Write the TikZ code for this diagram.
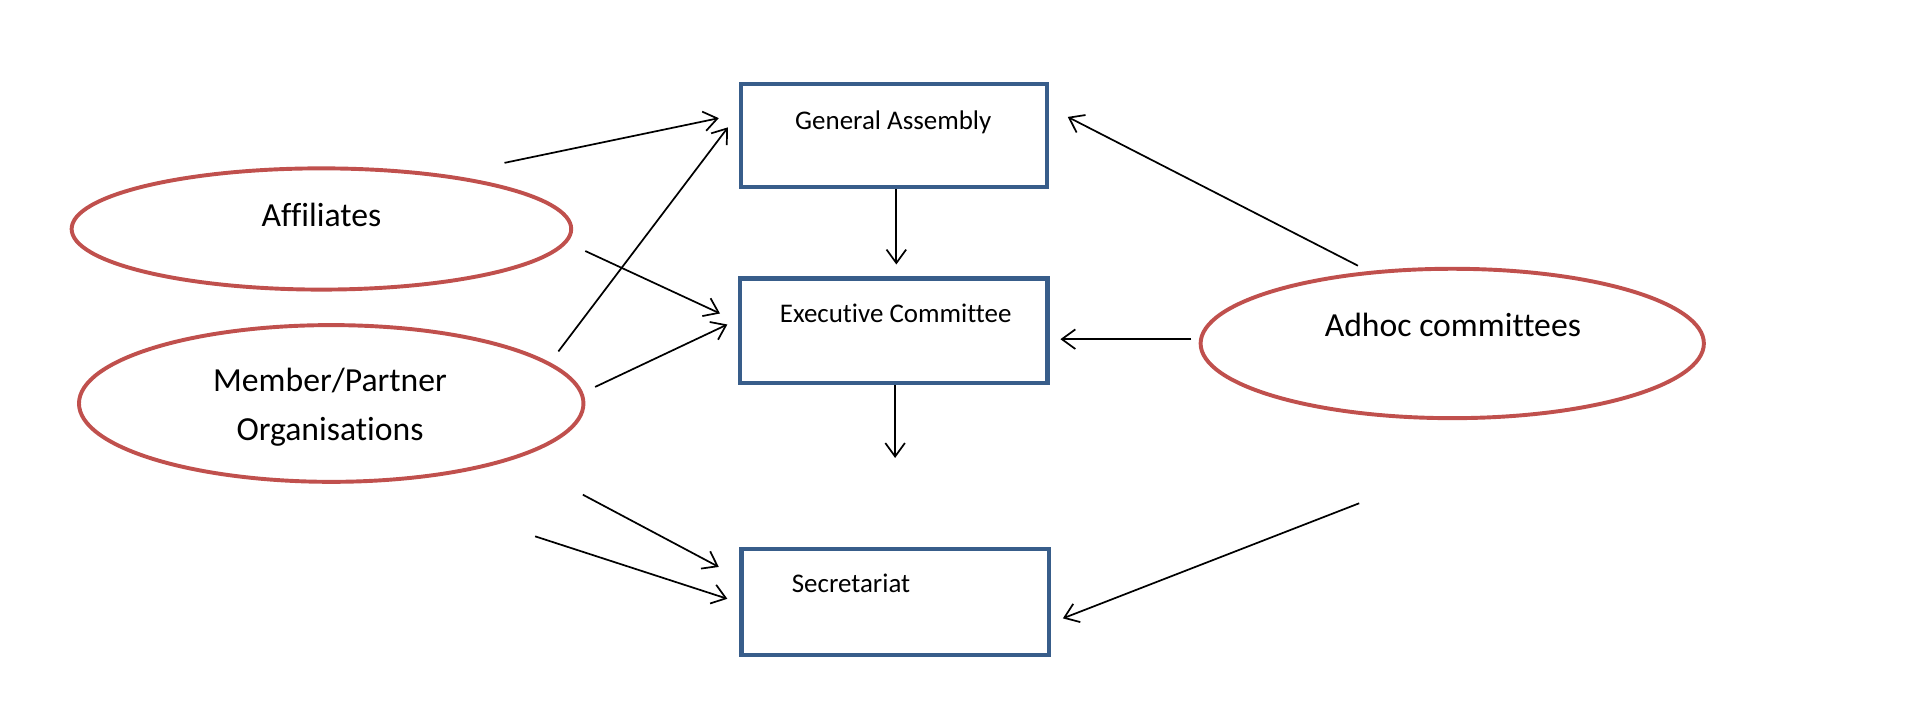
\documentclass[tikz,border=0pt]{standalone}
\usepackage{fontspec}
\setmainfont{Carlito}[Ligatures=NoCommon]
\usetikzlibrary{shapes.geometric,arrows.meta}
\definecolor{ellred}{HTML}{C0504D}
\definecolor{boxblue}{HTML}{385D8A}
\begin{document}
\begin{tikzpicture}[x=1pt,y=-1pt,
  oval/.style={ellipse, draw=ellred, line width=3.2pt, inner sep=0pt},
  orgbox/.style={rectangle, draw=boxblue, line width=3.5pt, inner sep=0pt},
  lbl/.style={anchor=base, inner sep=0pt, font=\fontsize{27.5}{33}\selectfont},
  blbl/.style={anchor=base, inner sep=0pt, font=\fontsize{22}{26}\selectfont},
  conn/.style={line width=1.4pt, -{Straight Barb[length=11pt,width=16pt]}}]
\useasboundingbox[fill=white] (0,0) rectangle (1568,591.3);

% boxes
\node[orgbox, minimum width=250pt, minimum height=84pt] (ga) at (730,110.8) {};
\node[orgbox, minimum width=251pt, minimum height=85pt] (ec) at (730,270) {};
\node[orgbox, minimum width=251pt, minimum height=86.5pt] (sec) at (731,491.6) {};
\node[blbl] (gat) at (729.5,106) {General Assembly};
\node[blbl] (ect) at (731.5,263) {Executive Committee};
\node[blbl] (sect) at (695,484) {Secretariat};

% ellipses
\node[oval, minimum width=408pt, minimum height=99pt] (aff) at (262.5,187) {};
\node[oval, minimum width=412pt, minimum height=128pt] (mem) at (270.5,329.5) {};
\node[oval, minimum width=411pt, minimum height=122pt] (adh) at (1186,280.5) {};
\node[lbl] (afft) at (262.5,185) {Affiliates};
\node[lbl] (memt1) at (269.5,320) {Member/Partner};
\node[lbl] (memt2) at (269.5,359.5) {Organisations};
\node[lbl] (adht) at (1186.5,275) {Adhoc committees};

% connector end points
\coordinate (s1) at (412,133);   \coordinate (t1) at (587,96.5);
\coordinate (s2) at (456,287);   \coordinate (t2) at (594.5,104);
\coordinate (s3) at (478,205);   \coordinate (t3) at (588,256);
\coordinate (s4) at (486,316);   \coordinate (t4) at (594,265);
\coordinate (t5) at (732,216);
\coordinate (t6) at (731,374);
\coordinate (s7) at (476,404);   \coordinate (t7) at (587,463);
\coordinate (s8) at (437,438);   \coordinate (t8) at (594,489);
\coordinate (s9) at (1109,217);  \coordinate (t9) at (872,95.5);
\coordinate (s10) at (973,277);  \coordinate (t10) at (866,277);
\coordinate (s11) at (1110,411); \coordinate (t11) at (868,505);

% connectors
\draw[conn] (s1) -- (t1);
\draw[conn] (s2) -- (t2);
\draw[conn] (s3) -- (t3);
\draw[conn] (s4) -- (t4);
\draw[conn] (ga.south -| t5) -- (t5);
\draw[conn] (ec.south -| t6) -- (t6);
\draw[conn] (s7) -- (t7);
\draw[conn] (s8) -- (t8);
\draw[conn] (s9) -- (t9);
\draw[conn] (s10) -- (t10);
\draw[conn] (s11) -- (t11);
\end{tikzpicture}
\end{document}
